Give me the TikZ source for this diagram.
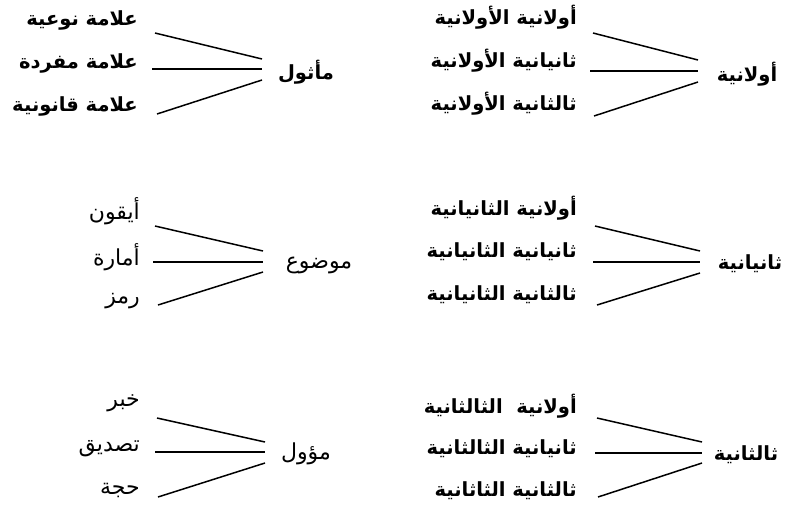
\documentclass[tikz,border=0pt]{standalone}
\usepackage{fontspec}
\newfontfamily\arabicfont[Script=Arabic]{DejaVu Sans}
\TeXXeTstate=1
\begin{document}
\begin{tikzpicture}[x=1pt,y=-1pt,
  lab/.style={anchor=east,inner sep=0pt,font=\arabicfont\bfseries\fontsize{19.5}{22}\selectfont},
  labr/.style={anchor=east,inner sep=0pt,font=\arabicfont\fontsize{22}{24}\selectfont},
  hub/.style={anchor=center,inner sep=0pt,font=\arabicfont\bfseries\fontsize{19.5}{22}\selectfont},
  hubr/.style={anchor=center,inner sep=0pt,font=\arabicfont\fontsize{22}{24}\selectfont},
  conn/.style={line width=1.5pt,black}]
\useasboundingbox (0,0) rectangle (800,507);
% ---------- group 1 left
\node[lab] (l11) at (138,20) {\beginR علامة نوعية\endR};
\node[lab] (l12) at (138,63) {\beginR علامة مفردة\endR};
\node[lab] (l13) at (138,106) {\beginR علامة قانونية\endR};
\node[hub] (h1) at (306,72) {\beginR مأثول\endR};
\coordinate (a11) at (155,33); \coordinate (b11) at (262,59);
\coordinate (a12) at (152,69); \coordinate (b12) at (262,69);
\coordinate (a13) at (157,114); \coordinate (b13) at (262,80);
\draw[conn] (a11) -- (b11); \draw[conn] (a12) -- (b12); \draw[conn] (a13) -- (b13);
% ---------- group 1 right
\node[lab] (r11) at (577,17) {\beginR أولانية الأولانية\endR};
\node[lab] (r12) at (577,61) {\beginR ثانيانية الأولانية\endR};
\node[lab] (r13) at (577,104) {\beginR ثالثانية الأولانية\endR};
\node[hub] (k1) at (747,74) {\beginR أولانية\endR};
\coordinate (c11) at (593,33); \coordinate (d11) at (698,60);
\coordinate (c12) at (590,71); \coordinate (d12) at (698,71);
\coordinate (c13) at (594,116); \coordinate (d13) at (698,82);
\draw[conn] (c11) -- (d11); \draw[conn] (c12) -- (d12); \draw[conn] (c13) -- (d13);
% ---------- group 2 left
\node[labr] (l21) at (140,211) {\beginR أيقون\endR};
\node[labr] (l22) at (140,257) {\beginR أمارة\endR};
\node[labr] (l23) at (140,301) {\beginR رمز\endR};
\node[hubr] (h2) at (319,265) {\beginR موضوع\endR};
\coordinate (a21) at (155,226); \coordinate (b21) at (263,251);
\coordinate (a22) at (153,262); \coordinate (b22) at (263,262);
\coordinate (a23) at (158,305); \coordinate (b23) at (263,272);
\draw[conn] (a21) -- (b21); \draw[conn] (a22) -- (b22); \draw[conn] (a23) -- (b23);
% ---------- group 2 right
\node[lab] (r21) at (577,208) {\beginR أولانية الثانيانية\endR};
\node[lab] (r22) at (577,252) {\beginR ثانيانية الثانيانية\endR};
\node[lab] (r23) at (577,295) {\beginR ثالثانية الثانيانية\endR};
\node[hub] (k2) at (750,264) {\beginR ثانيانية\endR};
\coordinate (c21) at (595,226); \coordinate (d21) at (700,251);
\coordinate (c22) at (593,262); \coordinate (d22) at (700,262);
\coordinate (c23) at (597,305); \coordinate (d23) at (700,273);
\draw[conn] (c21) -- (d21); \draw[conn] (c22) -- (d22); \draw[conn] (c23) -- (d23);
% ---------- group 3 left
\node[labr] (l31) at (140,403) {\beginR خبر\endR};
\node[labr] (l32) at (140,449) {\beginR تصديق\endR};
\node[labr] (l33) at (140,490) {\beginR حجة\endR};
\node[hubr] (h3) at (306,454) {\beginR مؤول\endR};
\coordinate (a31) at (157,418); \coordinate (b31) at (265,442);
\coordinate (a32) at (155,452); \coordinate (b32) at (265,452);
\coordinate (a33) at (158,497); \coordinate (b33) at (265,463);
\draw[conn] (a31) -- (b31); \draw[conn] (a32) -- (b32); \draw[conn] (a33) -- (b33);
% ---------- group 3 right
\node[lab] (r31) at (577,406) {\beginR أولانية\ \ الثالثانية\endR};
\node[lab] (r32) at (577,449) {\beginR ثانيانية الثالثانية\endR};
\node[lab] (r33) at (577,491) {\beginR ثالثانية الثاثانية\endR};
\node[hub] (k3) at (746,455) {\beginR ثالثانية\endR};
\coordinate (c31) at (597,418); \coordinate (d31) at (702,442);
\coordinate (c32) at (595,453); \coordinate (d32) at (702,453);
\coordinate (c33) at (598,497); \coordinate (d33) at (702,463);
\draw[conn] (c31) -- (d31); \draw[conn] (c32) -- (d32); \draw[conn] (c33) -- (d33);
\end{tikzpicture}
\end{document}
